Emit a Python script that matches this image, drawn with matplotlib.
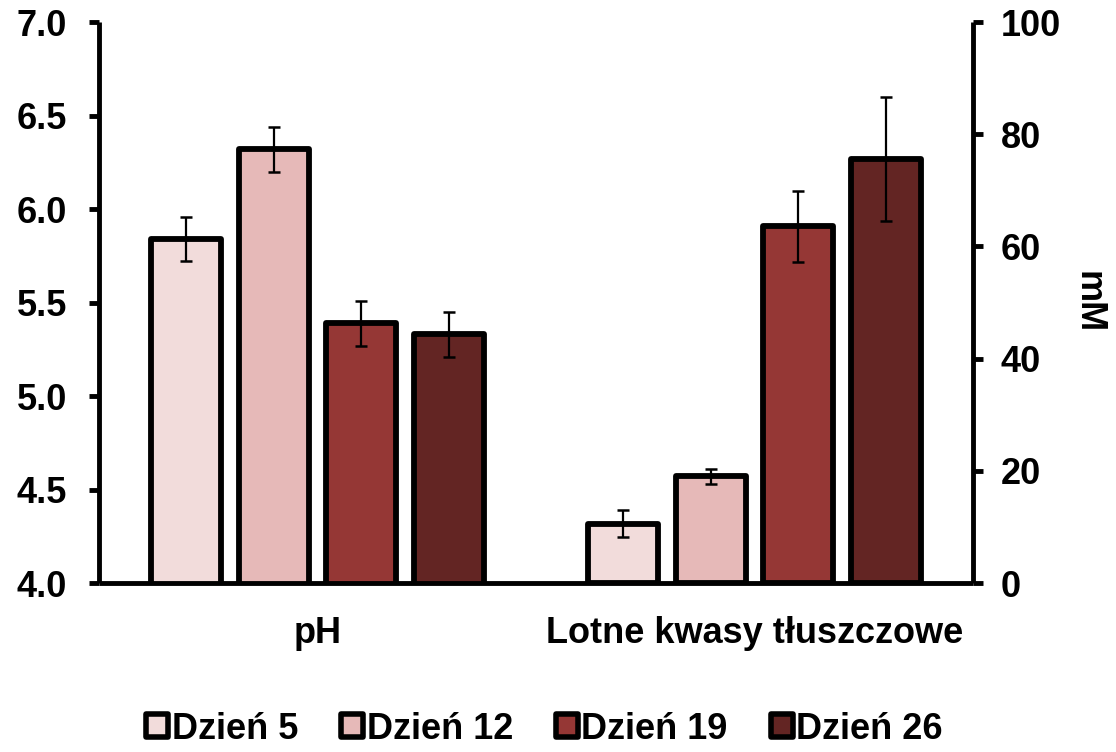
import numpy as np
import matplotlib.pyplot as plt

plt.rcParams['font.family'] = ['Liberation Sans', 'DejaVu Sans']
plt.rcParams['font.weight'] = 'bold'

# dane
days = ['Dzień 5', 'Dzień 12', 'Dzień 19', 'Dzień 26']
groups = ['pH', 'Lotne kwasy tłuszczowe']
ph_mean = [5.84, 6.32, 5.39, 5.33]
ph_sd = [0.12, 0.12, 0.12, 0.12]
vfa_mean = [10.6, 19.0, 63.6, 75.6]
vfa_sd = [2.4, 1.3, 6.3, 11.0]
colors = ['#F2DCDB', '#E6B9B8', '#953735', '#632523']

fs = 26

fig = plt.figure(figsize=(11.16, 7.52), dpi=100)
ax = fig.add_axes([0.0887, 0.2247, 0.7832, 0.746])
ax2 = ax.twinx()

width = 0.16
step = 0.2
offsets = (np.arange(len(days)) - 1.5) * step

bar_kw = dict(edgecolor='black', linewidth=4.2, joinstyle='round',
              error_kw={'elinewidth': 1.6, 'capthick': 1.8, 'ecolor': 'black'},
              capsize=4.5)

handles = []
for i in range(len(days)):
    h = ax.bar(0 + offsets[i], ph_mean[i], width, yerr=ph_sd[i],
               color=colors[i], label=days[i], **bar_kw)
    ax2.bar(1 + offsets[i], vfa_mean[i], width, yerr=vfa_sd[i],
            color=colors[i], **bar_kw)
    handles.append(h)

ax.set_xlim(-0.5, 1.5)
ax.set_ylim(4.0, 7.0)
ax.set_yticks(np.arange(4.0, 7.01, 0.5))
ax.set_yticklabels([f'{v:.1f}' for v in np.arange(4.0, 7.01, 0.5)])
ax2.set_ylim(0, 100)
ax2.set_yticks(np.arange(0, 101, 20))

ax.set_xticks([0, 1])
ax.set_xticklabels(groups)

for a in (ax, ax2):
    a.spines['top'].set_visible(False)
    for s in a.spines.values():
        s.set_linewidth(3.5)
        s.set_capstyle('butt')
    a.tick_params(axis='y', width=3.5, length=7, labelsize=fs)
    a.tick_params(axis='x', length=0, labelsize=fs, pad=24)
ax.tick_params(axis='y', pad=16)
ax2.tick_params(axis='y', pad=13)
ax.spines['right'].set_visible(False)
ax2.spines['left'].set_visible(False)
ax2.spines['bottom'].set_visible(False)

ax2.set_ylabel('mM', rotation=270, fontsize=fs, fontweight='bold', labelpad=32)

leg = fig.legend(handles=handles, labels=days, loc='lower center', ncol=4,
                 bbox_to_anchor=(0.488, -0.036), frameon=False, fontsize=fs,
                 handlelength=0.6, handleheight=0.6, handletextpad=0.1,
                 columnspacing=1.2)
for p in leg.get_patches():
    p.set_linewidth(4.0)
    p.set_joinstyle('round')

fig.savefig('out.png', dpi=100)
